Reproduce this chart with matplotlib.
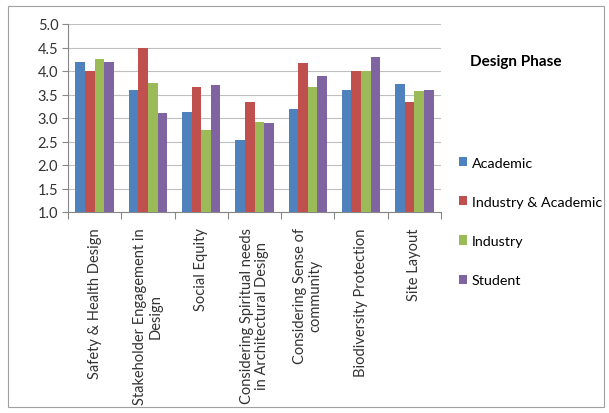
import matplotlib

matplotlib.use("Agg")
import matplotlib.pyplot as plt
import numpy as np
from matplotlib.patches import Rectangle

categories = [
    "Safety & Health Design",
    "Stakeholder Engagement in\nDesign",
    "Social Equity",
    "Considering Spiritual needs\nin Architectural Design",
    "Considering Sense of\ncommunity",
    "Biodiversity Protection",
    "Site Layout",
]
series_names = ["Academic", "Industry & Academic", "Industry", "Student"]
academic = [4.20, 3.60, 3.13, 2.53, 3.20, 3.60, 3.73]
industry_academic = [4.00, 4.50, 3.67, 3.33, 4.17, 4.00, 3.33]
industry = [4.25, 3.75, 2.75, 2.92, 3.67, 4.00, 3.58]
student = [4.20, 3.10, 3.70, 2.90, 3.90, 4.30, 3.60]
y_ticks = [1.0, 1.5, 2.0, 2.5, 3.0, 3.5, 4.0, 4.5, 5.0]

colors = ["#4F81BD", "#C0504D", "#9BBB59", "#8064A2"]

plt.rcParams["font.family"] = ["Lato", "DejaVu Sans"]

fig = plt.figure(figsize=(6.09, 4.14), dpi=100)
W, H = 609, 414
ax = fig.add_axes([68 / W, 1 - 213 / H, (441 - 68) / W, (213 - 25) / H])

# outer chart border
fig.patches.append(Rectangle((8 / W, 6 / H), 596 / W, 401 / H,
                             transform=fig.transFigure, fill=False,
                             edgecolor="#A0A0A0", linewidth=0.8))

x = np.arange(len(categories))
width = 0.18
values = [academic, industry_academic, industry, student]
for i, (vals, name, c) in enumerate(zip(values, series_names, colors)):
    ax.bar(x + (i - 1.5) * width, np.array(vals) - 1.0, width, bottom=1.0,
           color=c, label=name, zorder=3)

ax.set_ylim(1.0, 5.0)
ax.set_xlim(-0.5, len(categories) - 0.5)
ax.set_yticks(y_ticks)
ax.set_yticklabels([f"{v:.1f}" for v in y_ticks], fontsize=10.5, color="#333333")
ax.grid(axis="y", color="#BFBFBF", linewidth=0.8, zorder=0)

ax.set_xticks(x)
ax.set_xticklabels(categories, rotation=90, fontsize=10.5, color="#333333",
                   va="top", ha="center", linespacing=1.15)
ax.set_xticks(np.arange(len(categories) + 1) - 0.5, minor=True)
ax.tick_params(axis="x", which="major", length=0, pad=11)
ax.tick_params(axis="x", which="minor", length=5, color="#868686", width=0.8)
ax.tick_params(axis="y", length=4, color="#868686", width=0.8, pad=3)

for side in ["top", "right"]:
    ax.spines[side].set_visible(False)
for side in ["left", "bottom"]:
    ax.spines[side].set_color("#868686")
    ax.spines[side].set_linewidth(0.8)

fig.text(470 / W, 1 - 62 / H, "Design Phase", fontsize=11, fontweight="bold",
         va="center", ha="left")

handles, labels = ax.get_legend_handles_labels()
leg = fig.legend(handles, labels, loc="upper left",
                 bbox_to_anchor=(453 / W, 1 - 152 / H), frameon=False,
                 fontsize=10.3, handlelength=0.6, handleheight=0.6,
                 handletextpad=0.3, labelspacing=1.9, borderaxespad=0)

fig.savefig("out.png", dpi=100)
